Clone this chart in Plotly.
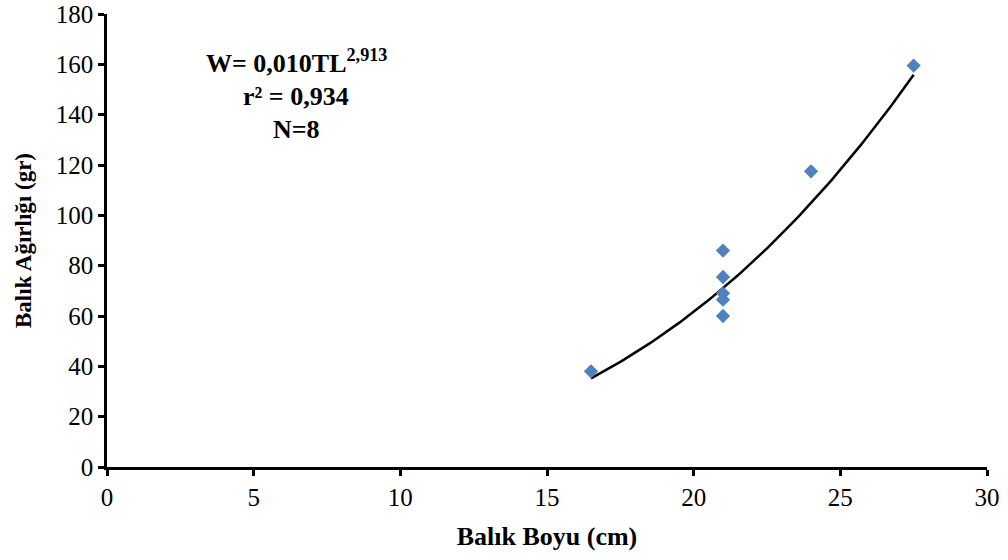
import numpy as np
import plotly.graph_objects as go

# Data
boy_cm = [16.5, 21, 21, 21, 21, 21, 24, 27.5]
agirlik_gr = [38, 86, 75.5, 69, 66.5, 60, 117.5, 159.5]

x_ticks = [0, 5, 10, 15, 20, 25, 30]
y_ticks = [0, 20, 40, 60, 80, 100, 120, 140, 160, 180]

# Power trendline W = a * TL^b (coefficients as printed on the chart)
a_coef = 0.010
b_exp = 2.913

xs = np.linspace(min(boy_cm), max(boy_cm), 100)
ys = a_coef * xs ** b_exp

FONT = "Liberation Serif"

fig = go.Figure()
fig.add_trace(go.Scatter(
    x=xs, y=ys, mode="lines",
    line=dict(color="black", width=2.5),
    showlegend=False, hoverinfo="skip",
))
fig.add_trace(go.Scatter(
    x=boy_cm, y=agirlik_gr, mode="markers",
    marker=dict(symbol="diamond", size=11, color="#4F81BD"),
    showlegend=False,
))

fig.update_layout(
    width=1008, height=560,
    margin=dict(l=107, r=21, t=14, b=93),
    paper_bgcolor="white", plot_bgcolor="white",
    font=dict(family=FONT, color="black", size=24),
    xaxis=dict(
        range=[0, 30], tickvals=x_ticks, showgrid=False, zeroline=False,
        showline=True, linecolor="black", linewidth=2.5, automargin=False,
        ticks="outside", ticklen=6, tickwidth=2.5, tickcolor="black",
        tickfont=dict(family=FONT, size=25),
        title=dict(text="<b>Balık Boyu (cm)</b>", font=dict(family=FONT, size=26), standoff=18),
    ),
    yaxis=dict(
        range=[0, 180], tickvals=y_ticks, showgrid=False, zeroline=False,
        showline=True, linecolor="black", linewidth=2.5, automargin=False,
        ticks="outside", ticklen=6, tickwidth=2.5, tickcolor="black",
        tickfont=dict(family=FONT, size=25),
        title=dict(text="<b>Balık Ağırlığı (gr)</b>", font=dict(family=FONT, size=23), standoff=18),
    ),
)

lines = ["<b>W= 0,010TL<sup>2,913</sup></b>", "<b>r² = 0,934</b>", "<b>N=8</b>"]
ys_px = [62, 96, 129]
for txt, ypx in zip(lines, ys_px):
    fig.add_annotation(
        text=txt, xref="paper", yref="paper",
        x=(296 - 107) / 880, y=(467 - ypx) / 453,
        showarrow=False, xanchor="center", yanchor="middle",
        font=dict(family=FONT, size=26, color="black"),
    )

fig.write_html("out.html")
